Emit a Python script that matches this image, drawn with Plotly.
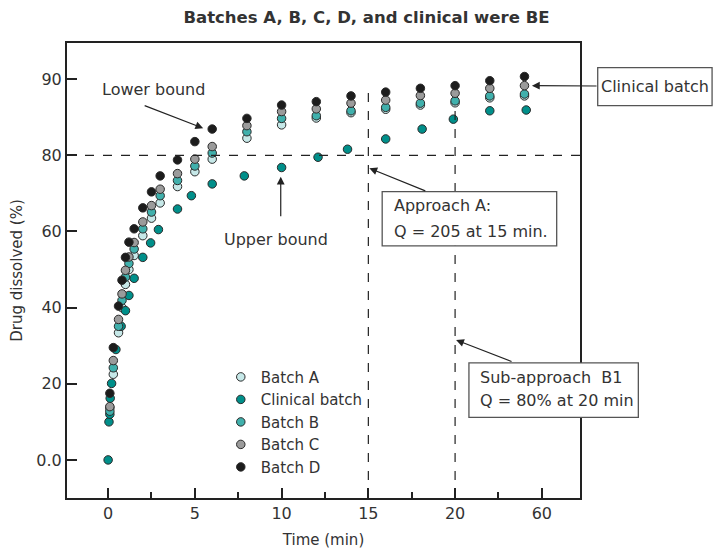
import plotly.graph_objs as go

# -- datos (eje y en posicion de marca: la marca "90" queda en 100)
tiempo = [0.1, 0.3, 0.6, 0.8, 1.0, 1.2, 1.5, 2, 2.5, 3, 4, 5, 6, 8, 10, 12, 14, 16, 18, 20, 22, 24]
batch_a = [13.7, 22.5, 33.4, 40.0, 46.1, 50.0, 53.7, 58.9, 63.5, 67.5, 71.8, 75.7, 79.0, 84.5, 88.0,
           89.8, 91.2, 92.1, 93.2, 93.8, 95.1, 95.6]
batch_b = [12.8, 24.2, 35.1, 41.9, 48.0, 51.6, 55.4, 60.7, 65.1, 69.4, 73.4, 77.2, 80.6, 86.2, 89.7,
           90.4, 91.7, 92.6, 93.7, 94.3, 95.6, 96.1]
batch_c = [14.0, 26.1, 36.9, 43.6, 49.8, 53.3, 57.1, 62.5, 66.8, 71.1, 75.2, 79.0, 82.3, 87.8, 91.5,
           92.2, 93.7, 94.5, 95.7, 96.3, 97.6, 98.3]
batch_d = [17.5, 29.5, 40.4, 47.2, 53.2, 57.2, 60.7, 66.2, 70.4, 74.6, 78.8, 83.6, 86.9, 89.7, 93.2,
           94.1, 95.6, 96.6, 97.6, 98.3, 99.6, 100.7]

tiempo_clin = [0, 0.05, 0.1, 0.12, 0.2, 0.45, 0.75, 1.0, 1.2, 1.5, 2.0, 2.45, 2.9, 4.0, 4.8, 6.0, 7.85,
               10.0, 12.1, 13.8, 16.0, 18.1, 19.9, 22.0, 24.1]
clinical = [0.0, 10.0, 12.0, 16.2, 20.1, 29.0, 35.1, 39.2, 43.2, 47.7, 53.2, 57.0, 60.5, 65.9, 69.4,
            72.5, 74.6, 76.8, 79.5, 81.6, 84.3, 86.9, 89.5, 91.7, 91.9]

x_ticks = [0, 5, 10, 15, 20, 25]
x_labels = ['0', '5', '10', '15', '20', '60']
y_ticks = [0, 20, 40, 60, 80, 100]
y_labels = ['0.0', '20', '40', '60', '80', '90']

# -- area de la grafica en pixeles
W, H = 718, 552
L, R, T, B = 67.3, 580, 43, 498.5


def px(x):
    return (x - L) / (R - L)


def py(y):
    return (B - y) / (B - T)


TXT = '#333333'
FUENTE = 'DejaVu Sans'

series = [('Batch A', tiempo, batch_a, '#c6e8e8'),
          ('Clinical batch', tiempo_clin, clinical, '#008f8a'),
          ('Batch B', tiempo, batch_b, '#40b0ac'),
          ('Batch C', tiempo, batch_c, '#9b9b9b'),
          ('Batch D', tiempo, batch_d, '#1c1c1c')]

fig = go.Figure()
for nombre, xs, ys, color in series:
    fig.add_trace(go.Scatter(x=xs, y=ys, mode='markers', name=nombre,
                             marker=dict(size=8.5, color=color, line=dict(color='#2a2a2a', width=1))))

# -- lineas punteadas
lineas = [dict(type='line', xref='paper', yref='y', x0=0, x1=1, y0=80, y1=80,
               line=dict(color='#222222', width=1.2, dash='dash')),
          dict(type='line', xref='x', yref='y', x0=15, x1=15, y0=-10, y1=97,
               line=dict(color='#222222', width=1.2, dash='dash')),
          dict(type='line', xref='x', yref='y', x0=20, x1=20, y0=-10, y1=93,
               line=dict(color='#222222', width=1.2, dash='dash'))]

# -- cajas de texto
for x0, x1, y0, y1 in [(382.3, 556.7, 191.7, 246), (597.7, 712, 67.7, 105.7), (469, 638.3, 363.3, 417.7)]:
    lineas.append(dict(type='rect', xref='paper', yref='paper', x0=px(x0), x1=px(x1), y0=py(y1), y1=py(y0),
                       fillcolor='white', line=dict(color='#555555', width=1.3), layer='above'))

notas = []
textos = [('Lower bound', 154, 90, 'center'), ('Upper bound', 276.5, 240, 'center'),
          ('Approach A:', 391.7, 206, 'left'), ('Q = 205 at 15 min.', 391.7, 231.7, 'left'),
          ('Clinical batch', 655, 87, 'center'),
          ('Sub-approach  B1', 478.3, 378.3, 'left'), ('Q = 80% at 20 min', 478.3, 400.7, 'left')]
for t, x, y, anc in textos:
    notas.append(dict(text=t, xref='paper', yref='paper', x=px(x), y=py(y), xanchor=anc, yanchor='middle',
                      showarrow=False, font=dict(size=16, color=TXT, family=FUENTE)))

# -- flechas (cabeza, cola) en unidades de datos
flechas = [((5.48, 87.1), (2.02, 93.2)), ((9.95, 74.4), (9.95, 63.6)), ((15.06, 76.6), (18.37, 70.5)),
           ((24.43, 98.3), (28.24, 98.2)), ((20.06, 31.5), (23.34, 25.7))]
for (hx, hy), (tx, ty) in flechas:
    notas.append(dict(text='', x=hx, y=hy, ax=tx, ay=ty, xref='x', yref='y', axref='x', ayref='y',
                      showarrow=True, arrowhead=2, arrowsize=1.3, arrowwidth=1.2, arrowcolor='#222222',
                      standoff=0, startstandoff=0))

fig.update_layout(
    width=W, height=H,
    margin=dict(l=L, r=W - R, t=T, b=H - B, autoexpand=False),
    plot_bgcolor='white', paper_bgcolor='white',
    font=dict(family=FUENTE, size=16, color=TXT),
    title=dict(text='<b>Batches A, B, C, D, and clinical were BE</b>', x=px(329), xanchor='center',
               y=1 - 17 / H, yanchor='middle', font=dict(size=16.5, color=TXT, family=FUENTE)),
    xaxis=dict(range=[-2.37, 27.2], tickmode='array', tickvals=x_ticks, ticktext=x_labels,
               ticks='inside', ticklen=10, tickwidth=1.5, tickcolor='#222222',
               minor=dict(dtick=2.5, tick0=0, ticks='inside', ticklen=6, tickwidth=1.5, tickcolor='#222222'),
               showline=True, mirror=True, linewidth=2, linecolor='#222222', showgrid=False, zeroline=False,
               automargin=False, title=dict(text='Time (min)', standoff=12, font=dict(size=15)),
               tickfont=dict(size=16)),
    yaxis=dict(range=[-10, 109.5], tickmode='array', tickvals=y_ticks, ticktext=y_labels,
               ticks='inside', ticklen=10, tickwidth=1.5, tickcolor='#222222',
               showline=True, mirror=True, linewidth=2, linecolor='#222222', showgrid=False, zeroline=False,
               automargin=False, title=dict(text='Drug dissolved (%)', standoff=10, font=dict(size=15)),
               tickfont=dict(size=16)),
    legend=dict(x=px(221), y=py(361), xanchor='left', yanchor='top', bgcolor='rgba(0,0,0,0)',
                font=dict(size=15, color=TXT, family=FUENTE), itemwidth=30, tracegroupgap=0),
    shapes=lineas,
    annotations=notas,
    showlegend=True)

# -- quitar el margen del body para que la figura quede en (0, 0); sin barra de herramientas
fig.write_html("out.html", config={'displayModeBar': False},
               post_script="document.body.style.margin='0';")
